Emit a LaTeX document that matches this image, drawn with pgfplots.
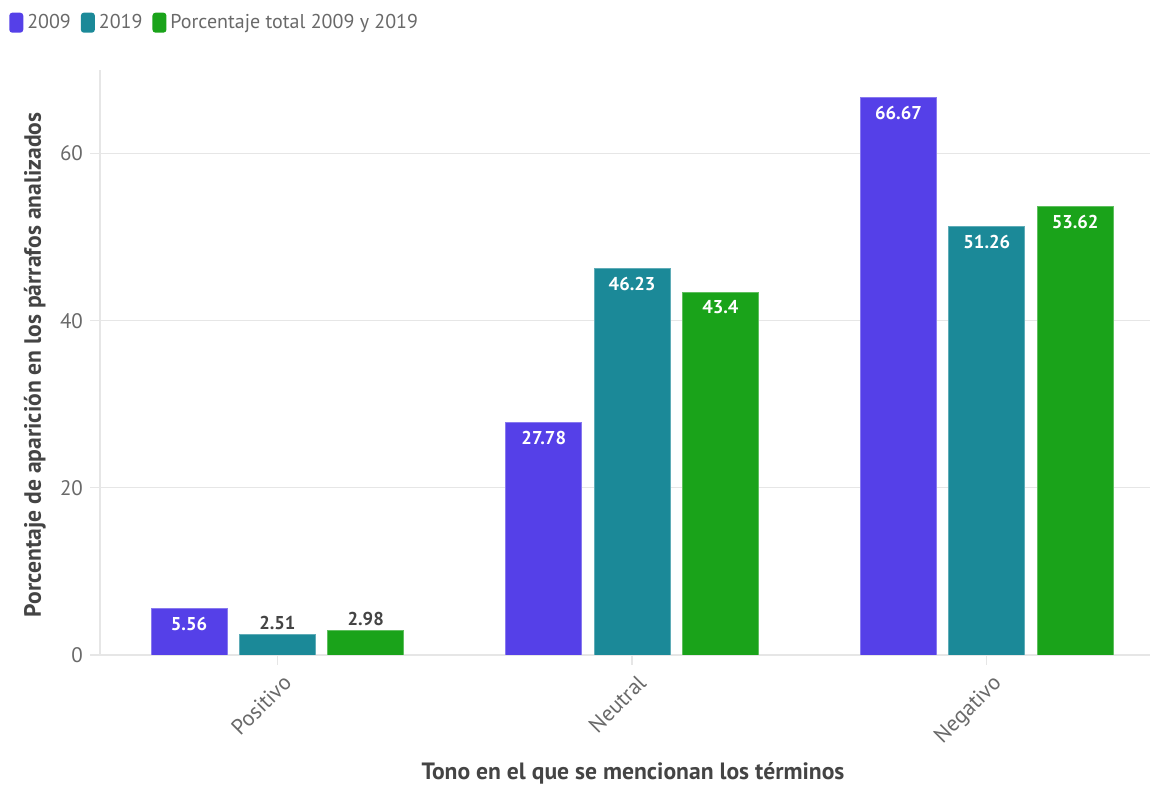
\documentclass[border=0pt]{standalone}
\usepackage{fontspec}
\setmainfont{PT Sans}
\usepackage{pgfplots}
\usepackage{pgfplotstable}
\pgfplotsset{compat=1.18}
\definecolor{cA}{RGB}{85,64,232}
\definecolor{cB}{RGB}{27,137,152}
\definecolor{cC}{RGB}{26,163,26}
\definecolor{gridc}{RGB}{230,230,230}
\definecolor{tickc}{RGB}{105,105,105}
\definecolor{labc}{RGB}{68,68,68}
\pgfplotstableread{
x y
0 5.56
1 27.78
2 66.67
}\tA
\pgfplotstableread{
x y
0 2.51
1 46.23
2 51.26
}\tB
\pgfplotstableread{
x y
0 2.98
1 43.4
2 53.62
}\tC
\newcommand{\barlab}{\ifdim\pgfplotspointmeta pt<4pt\relax\smash{\raisebox{7pt}{\textcolor{labc}{\pgfplotspointmeta}}}\else\textcolor{white}{\pgfplotspointmeta}\fi}
\begin{document}
\begin{tikzpicture}
\begin{axis}[
  at={(0,0)}, anchor=south west,
  scale only axis, width=525pt, height=292.5pt,
  ymin=0, ymax=70, xmin=-0.5, xmax=2.46,
  ytick={0,20,40,60},
  xtick={0,1,2}, xticklabels={Positivo,Neutral,Negativo},
  ymajorgrids, grid style={gridc, line width=0.6pt},
  axis x line*=bottom, axis y line*=left,
  axis line style={gridc, line width=0.6pt},
  tick align=outside, major tick length=5pt,
  tick style={gridc, line width=0.6pt},
  ticklabel style={font=\fontsize{10.5}{12}\selectfont, text=tickc},
  /pgf/number format/assume math mode=true,
  xticklabel style={rotate=45, anchor=north east, xshift=2pt, yshift=-1pt, font=\fontsize{11}{12}\selectfont},
  ylabel={Porcentaje de aparición en los párrafos analizados},
  xlabel={Tono en el que se mencionan los términos},
  label style={font=\bfseries\fontsize{11.8}{13}\selectfont, text=labc},
  ylabel style={at={(axis description cs:-0.062,0.496)}, anchor=center},
  xlabel style={at={(axis description cs:0.5076,-0.2017)}, anchor=center},
  ybar, bar width=0.214,
  point meta=explicit symbolic,
  nodes near coords={\barlab},
  every node near coord/.append style={font=\bfseries\fontsize{9.3}{10}\selectfont,
     anchor=north, inner sep=0pt, yshift=-4pt},
  legend style={at={(axis description cs:-0.0925,1.11)}, anchor=north west,
     draw=none, fill=none, font=\fontsize{10}{12}\selectfont, text=tickc,
     /tikz/every even column/.append style={column sep=3pt}},
  legend columns=-1,
  legend image code/.code={\fill[#1, draw=none, rounded corners=1.5pt] (0pt,-5pt) rectangle (7pt,5pt);},
]
\addplot[fill=cA, draw=cA!70!white, line width=0.4pt, bar shift=-0.249] table[x=x,y=y,meta=y]{\tA};
\addplot[fill=cB, draw=cB!70!white, line width=0.4pt, bar shift=0] table[x=x,y=y,meta=y]{\tB};
\addplot[fill=cC, draw=cC!70!white, line width=0.4pt, bar shift=0.249] table[x=x,y=y,meta=y]{\tC};
\legend{2009,2019,Porcentaje total 2009 y 2019}
\end{axis}
\useasboundingbox (-50pt,-65pt) rectangle (525.5pt,327.5pt);
\end{tikzpicture}
\end{document}
